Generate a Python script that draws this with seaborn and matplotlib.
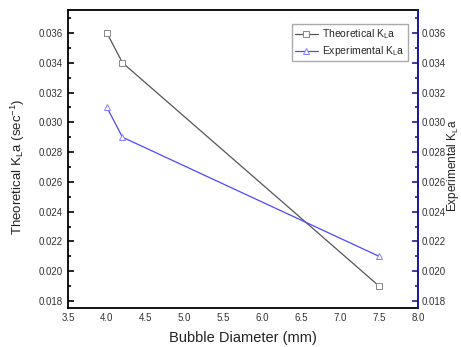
import matplotlib
matplotlib.use("Agg")
import matplotlib.pyplot as plt
from matplotlib.ticker import MultipleLocator
import seaborn as sns
import pandas as pd

diameter = [4.0, 4.2, 7.5]
theoretical = [0.036, 0.034, 0.019]
experimental = [0.031, 0.029, 0.021]

sns.set_theme(style="white")
plt.rcParams['font.family'] = ['Liberation Sans', 'DejaVu Sans']
plt.rcParams['mathtext.fontset'] = 'custom'
plt.rcParams['mathtext.rm'] = 'Liberation Sans'
plt.rcParams['mathtext.it'] = 'Liberation Sans'

df = pd.DataFrame({"d": diameter, "t": theoretical, "e": experimental})

fig = plt.figure(figsize=(4.61, 3.47), dpi=100)
ax = fig.add_axes([68/461, 1 - 308/347, (418-68)/461, (308-10)/347])
ax2 = ax.twinx()

sns.lineplot(data=df, x="d", y="t", ax=ax, color="#555555", lw=0.9,
             marker="s", markersize=4, markerfacecolor="white",
             markeredgecolor="#888888", markeredgewidth=0.7,
             label=r"Theoretical K$_\mathregular{L}$a", legend=False)
sns.lineplot(data=df, x="d", y="e", ax=ax2, color="#4a4aff", lw=0.9,
             marker="^", markersize=5, markerfacecolor="white",
             markeredgecolor="#8080ff", markeredgewidth=0.7,
             label=r"Experimental K$_\mathregular{L}$a", legend=False)

for a in (ax, ax2):
    a.set_ylim(0.01753, 0.03754)
    a.yaxis.set_major_locator(MultipleLocator(0.002))
    a.yaxis.set_minor_locator(MultipleLocator(0.001))
ax.set_xlim(3.5, 8.0)
ax.xaxis.set_major_locator(MultipleLocator(0.5))

ax.tick_params(axis="both", which="both", direction="in", labelsize=7,
               colors="black", labelcolor="#333333", width=1.2)
ax.tick_params(which="major", length=4)
ax.tick_params(which="minor", length=2)
ax.set_yticklabels([f"{v:.3f}" for v in ax.get_yticks()])
ax.set_xticklabels([f"{v:.1f}" for v in ax.get_xticks()])
ax2.tick_params(axis="y", which="both", direction="in", labelsize=7,
                colors="#1a1aa0", labelcolor="#333333", width=1.2, pad=2.5)
ax2.tick_params(which="major", length=4)
ax2.tick_params(which="minor", length=2)
ax2.set_yticklabels([f"{v:.3f}" for v in ax2.get_yticks()])

for s in ("left", "bottom", "top"):
    ax.spines[s].set_color("black")
    ax.spines[s].set_linewidth(1.3)
ax2.spines["right"].set_color("#1a1aa0")
ax2.spines["right"].set_linewidth(1.3)
for s in ("left", "bottom", "top"):
    ax2.spines[s].set_visible(False)

ax.set_xlabel("Bubble Diameter (mm)", fontsize=10.5, color="#222222", labelpad=6)
ax.set_ylabel(r"Theoretical K$_\mathregular{L}$a (sec$^\mathregular{-1}$)",
              fontsize=9.5, color="#222222")
ax.yaxis.set_label_coords(-0.117, 0.473)
ax2.set_ylabel(r"Experimental K$_\mathregular{L}$a", fontsize=8.5,
               color="#222222", rotation=90)
ax2.yaxis.set_label_coords(1.078, 0.48)

h1, l1 = ax.get_legend_handles_labels()
h2, l2 = ax2.get_legend_handles_labels()
ax2.legend(h1 + h2, l1 + l2, loc="upper right", fontsize=7.5, frameon=True,
           fancybox=False, edgecolor="#aaaaaa", framealpha=1,
           handlelength=2.2, borderpad=0.3, labelspacing=0.3,
           handletextpad=0.4, bbox_to_anchor=(0.985, 0.97))

fig.savefig("out.png", dpi=100)
